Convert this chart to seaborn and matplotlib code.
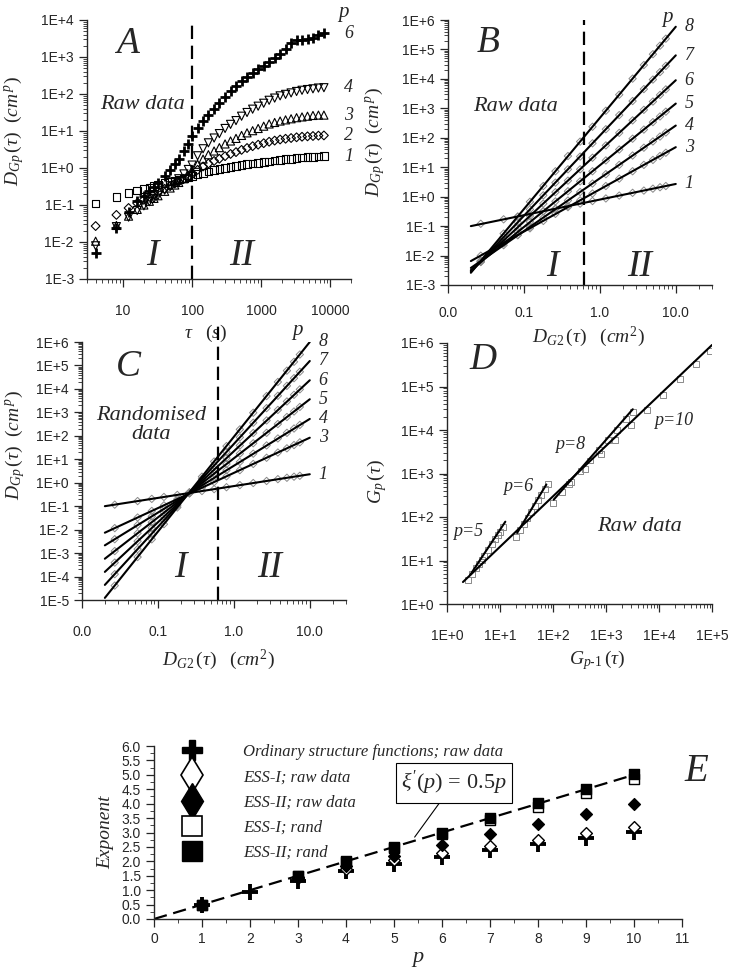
import numpy as np
import matplotlib
matplotlib.use("Agg")
import matplotlib.pyplot as plt
import seaborn as sns
from matplotlib.lines import Line2D
from matplotlib.ticker import (FixedLocator, FixedFormatter, LogLocator,
                               NullFormatter, MultipleLocator, FormatStrFormatter)

# ---------------- panel A: raw structure functions vs time lag ----------------
tau = [4, 8, 12, 16, 20, 24, 28, 32, 40, 48, 56, 64, 76, 88, 100, 120, 144, 172,
       208, 248, 300, 360, 432, 520, 624, 752, 904, 1088, 1304, 1568, 1880, 2256,
       2712, 3256, 3904, 4688, 5624, 6752, 8104]
a_p1 = [0.11, 0.166, 0.21, 0.245, 0.275, 0.30, 0.33, 0.355, 0.39, 0.43, 0.46, 0.49,
        0.525, 0.56, 0.60, 0.68, 0.74, 0.81, 0.87, 0.93, 1.0, 1.07, 1.15, 1.2, 1.26,
        1.32, 1.38, 1.45, 1.51, 1.58, 1.66, 1.74, 1.78, 1.86, 1.9, 1.95, 2.0, 2.04, 2.09]
a_p2 = [0.027, 0.054, 0.083, 0.112, 0.138, 0.166, 0.195, 0.224, 0.275, 0.324, 0.38,
        0.427, 0.513, 0.589, 0.676, 0.891, 1.10, 1.32, 1.55, 1.78, 2.09, 2.40, 2.69,
        3.09, 3.47, 3.89, 4.27, 4.68, 5.13, 5.50, 5.89, 6.17, 6.46, 6.76, 7.0, 7.16,
        7.33, 7.5, 7.59]
a_p3 = [0.0105, 0.028, 0.050, 0.076, 0.10, 0.126, 0.151, 0.178, 0.234, 0.288, 0.347,
        0.407, 0.513, 0.631, 0.794, 1.26, 1.74, 2.29, 2.88, 3.55, 4.47, 5.37, 6.31,
        7.59, 8.91, 10.2, 11.7, 13.5, 15.5, 17.0, 18.6, 20.0, 21.4, 22.9, 24.0, 25.1,
        26.3, 26.9, 26.9]
a_p4 = [0.0079, 0.026, 0.047, 0.071, 0.095, 0.123, 0.151, 0.182, 0.251, 0.331, 0.417,
        0.513, 0.692, 0.912, 1.20, 2.14, 3.31, 4.79, 6.46, 8.51, 11.7, 15.1, 19.1,
        25.1, 31.6, 38.9, 46.8, 56.2, 67.6, 77.6, 89.1, 97.7, 107, 117, 126, 132,
        138, 145, 148]
a_p6 = [0.005, 0.024, 0.063, 0.126, 0.178, 0.24, 0.316, 0.398, 0.603, 0.871, 1.26,
        1.78, 2.82, 4.47, 7.24, 12.0, 18.2, 26.9, 39.8, 57.5, 83.2, 117, 166, 224,
        295, 380, 479, 589, 724, 912, 1200, 1660, 2400, 2820, 2950, 3020, 3310,
        3980, 4370]
tau_split = 100

# ---------------- panel B: ESS, raw data ----------------
b_x = [0.027, 0.054, 0.083, 0.12, 0.18, 0.26, 0.38, 0.55, 0.8, 1.2, 1.8, 2.7, 3.8,
       5.0, 6.2, 7.4]
b_p1 = [0.12, 0.17, 0.21, 0.26, 0.32, 0.39, 0.48, 0.58, 0.71, 0.87, 1.09, 1.35,
        1.61, 1.87, 2.09, 2.30]
b_p3 = [0.0099, 0.027, 0.050, 0.084, 0.15, 0.26, 0.44, 0.75, 1.28, 2.3, 4.1, 7.3,
        12, 17.7, 24, 31]
b_p4 = [0.0065, 0.0225, 0.049, 0.094, 0.19, 0.38, 0.74, 1.44, 2.8, 5.8, 12, 25, 46,
        75, 110, 151]
b_p5 = [0.006, 0.026, 0.063, 0.14, 0.32, 0.69, 1.53, 3.3, 7.3, 17, 40, 93, 190, 340,
        530, 770]
b_p6 = [0.0062, 0.032, 0.091, 0.22, 0.58, 1.42, 3.5, 8.5, 21, 55, 147, 390, 890,
        1700, 2850, 4400]
b_p7 = [0.0063, 0.042, 0.135, 0.37, 1.11, 3.0, 8.5, 23, 65, 195, 590, 1770, 4500,
        9500, 17000, 27700]
b_p8 = [0.0066, 0.056, 0.21, 0.67, 2.3, 7.3, 24, 74, 237, 830, 2900, 10200, 29600,
        69000, 134000, 232000]
fit_x = [0.02, 10]
bfit_p1 = [0.1, 2.7]
bfit_p3 = [0.0065, 48]
bfit_p4 = [0.0038, 260]
bfit_p5 = [0.0032, 1450]
bfit_p6 = [0.003, 9000]
bfit_p7 = [0.0028, 63000]
bfit_p8 = [0.0026, 590000]
dg2_split = 0.62

# ---------------- panel C: ESS, randomised data ----------------
c_x = [0.027, 0.054, 0.083, 0.12, 0.18, 0.26, 0.38, 0.55, 0.8, 1.2, 1.8, 2.7, 3.8,
       5.0, 6.2, 7.4]
c_p1 = [0.116, 0.165, 0.205, 0.247, 0.303, 0.366, 0.443, 0.533, 0.644, 0.791, 0.971,
        1.19, 1.42, 1.63, 1.81, 1.98]
c_p3 = [0.0116, 0.0328, 0.0627, 0.109, 0.2, 0.348, 0.614, 1.07, 1.88, 3.44, 6.32,
        11.6, 19.4, 29.3, 40.4, 52.7]
c_p4 = [0.0039, 0.0156, 0.0368, 0.0769, 0.173, 0.361, 0.773, 1.61, 3.42, 7.69, 17.3,
        38.9, 77.3, 134, 205, 292]
c_p5 = [0.00122, 0.00702, 0.0207, 0.0526, 0.146, 0.369, 0.962, 2.43, 6.27, 17.4,
        48.3, 134, 318, 635, 1090, 1700]
c_p6 = [0.000393, 0.00321, 0.0118, 0.0361, 0.123, 0.376, 1.19, 3.63, 11.3, 38.6,
        132, 451, 1270, 2920, 5600, 9570]
c_p7 = [0.000126, 0.00147, 0.00673, 0.0248, 0.104, 0.384, 1.47, 5.42, 20.5, 85.9,
        361, 1510, 5100, 13500, 28700, 53800]
c_p8 = [4.12e-5, 0.000678, 0.00386, 0.0171, 0.0879, 0.39, 1.81, 8.02, 36.5, 188,
        964, 4950, 19800, 60000, 143000, 292000]
cfit_p1 = [0.1, 2.3]
cfit_p3 = [0.0074, 83]
cfit_p4 = [0.00214, 525]
cfit_p5 = [5.75e-4, 3630]
cfit_p6 = [1.58e-4, 23400]
cfit_p7 = [4.4e-5, 155000]
cfit_p8 = [1.23e-5, 1.0e6]

# ---------------- panel D: G_p vs G_(p-1) ----------------
d_x5 = [2.5, 3.0, 3.5, 4.0, 4.5, 5.0, 6.0, 7.0, 8.0, 9.0, 10, 11.5]
d_y5 = [3.5, 5.0, 6.6, 8.4, 10.5, 12.7, 17.7, 23.5, 30.5, 38, 46, 59]
d_x6 = [20, 24, 28, 33, 38, 45, 52, 60, 70, 80]
d_y6 = [35, 50, 69, 96, 129, 180, 242, 322, 440, 577]
d_x8 = [100, 150, 220, 330, 500, 750, 1100, 1600, 2400, 3200]
d_y8 = [211, 371, 633, 1120, 1990, 3490, 5970, 10000, 17700, 26400]
d_x10 = [200, 400, 800, 1500, 3000, 6000, 12000, 25000, 50000, 90000]
d_y10 = [570, 1260, 2800, 5770, 12900, 28400, 63000, 147000, 326000, 640000]
dfit_x5, dfit_y5 = [2.75, 12.6], [4.7, 78]
dfit_x6, dfit_y6 = [21, 75], [43, 560]
dfit_x8, dfit_y8 = [103, 3200], [250, 30000]
dfit_x10, dfit_y10 = [2.0, 1.0e5], [3.2, 9.0e5]

# ---------------- panel E: scaling exponents ----------------
p_all = [1, 2, 3, 4, 5, 6, 7, 8, 9, 10]
ord_sf = [0.5, 0.95, 1.33, 1.65, 1.92, 2.15, 2.38, 2.6, 2.82, 3.03]
p_ess = [1, 3, 4, 5, 6, 7, 8, 9, 10]
ess1_raw = [0.5, 1.41, 1.72, 2.04, 2.29, 2.53, 2.74, 2.97, 3.2]
ess2_raw = [0.5, 1.45, 1.85, 2.2, 2.58, 2.94, 3.28, 3.64, 4.0]
ess1_rand = [0.5, 1.48, 1.97, 2.47, 2.95, 3.42, 3.9, 4.38, 4.87]
ess2_rand = [0.5, 1.5, 2.0, 2.5, 3.0, 3.5, 4.02, 4.52, 5.03]
ref_p = [0, 10]
ref_xi = [0, 5.0]

# ---------------- style ----------------
sns.set_style("ticks")
plt.rcParams["font.family"] = ["Liberation Sans", "DejaVu Sans"]
plt.rcParams["mathtext.fontset"] = "custom"
plt.rcParams["mathtext.rm"] = "Liberation Serif"
plt.rcParams["mathtext.it"] = "Liberation Serif:italic"
plt.rcParams["mathtext.bf"] = "Liberation Serif:bold"
plt.rcParams["axes.linewidth"] = 1.0
SERIF = dict(family="Liberation Serif", style="italic")
GREY = "#8a8a8a"

W, H = 731, 973


def box(x0, y0, x1, y1):
    return [x0 / W, 1 - y1 / H, (x1 - x0) / W, (y1 - y0) / H]


def log_axes(ax, xlim, ylim, xt, xl, yt, yl, xpad=12):
    ax.set_xscale("log")
    ax.set_yscale("log")
    ax.set_xlim(xlim)
    ax.set_ylim(ylim)
    ax.xaxis.set_major_locator(FixedLocator(xt))
    ax.xaxis.set_major_formatter(FixedFormatter(xl))
    ax.yaxis.set_major_locator(FixedLocator(yt))
    ax.yaxis.set_major_formatter(FixedFormatter(yl))
    for axis in (ax.xaxis, ax.yaxis):
        axis.set_minor_locator(LogLocator(base=10, subs=np.arange(2, 10), numticks=80))
        axis.set_minor_formatter(NullFormatter())
    ax.tick_params(which="major", direction="out", length=6, width=0.9, labelsize=10)
    ax.tick_params(which="minor", direction="out", length=3, width=0.6)
    ax.tick_params(axis="x", which="major", pad=xpad)
    ax.patch.set_alpha(0)
    sns.despine(ax=ax)


def e_labels(lo, hi):
    return ["1E+%d" % k if k >= 0 else "1E-%d" % -k for k in range(lo, hi + 1)]


def e_ticks(lo, hi):
    return [10.0 ** k for k in range(lo, hi + 1)]


def note(ax, x, y, s, size, **kw):
    ax.text(x, y, s, transform=ax.transAxes, ha="center", va="center",
            fontsize=size, **SERIF, **kw)


fig = plt.figure(figsize=(W / 100, H / 100), dpi=100)

# ---------------- A ----------------
axA = fig.add_axes(box(87, 20, 351, 279))
for vals, mk, sz in [(a_p1, "s", 30), (a_p2, "D", 20), (a_p3, "^", 34), (a_p4, "v", 34)]:
    sns.scatterplot(x=tau, y=vals, marker=mk, s=sz, facecolor="none",
                    edgecolor="k", linewidth=0.8, ax=axA)
sns.scatterplot(x=tau, y=a_p6, marker="+", s=55, color="k", linewidth=2.0, ax=axA)
log_axes(axA, (3, 20000), (1e-3, 1e4), [10, 100, 1000, 10000],
         ["10", "100", "1000", "10000"], e_ticks(-3, 4), e_labels(-3, 4))
axA.axvline(tau_split, color="k", lw=1.6, ls=(0, (6, 3)))
for vals, lab in [(a_p6, "6"), (a_p4, "4"), (a_p3, "3"), (a_p2, "2"), (a_p1, "1")]:
    axA.text(tau[-1] * 2.3, vals[-1], lab, ha="center", va="center", fontsize=13, **SERIF)
note(axA, 0.97, 1.03, "p", 15)
note(axA, 0.155, 0.91, "A", 27)
note(axA, 0.21, 0.673, "Raw data", 16)
note(axA, 0.246, 0.09, "I", 27)
note(axA, 0.587, 0.09, "II", 27)
axA.set_xlabel(r"$\tau\ \ \ (s)$", fontsize=14)
axA.xaxis.set_label_coords(0.447, -0.168)
axA.set_ylabel(r"$D_{Gp}\,(\tau)\ \ (cm^{\,p})$", fontsize=14)
axA.yaxis.set_label_coords(-0.23, 0.57)

# ---------------- B ----------------
axB = fig.add_axes(box(448, 20, 712, 285))
b_series = [(b_p1, bfit_p1, "1"), (b_p3, bfit_p3, "3"), (b_p4, bfit_p4, "4"),
            (b_p5, bfit_p5, "5"), (b_p6, bfit_p6, "6"), (b_p7, bfit_p7, "7"),
            (b_p8, bfit_p8, "8")]
for vals, fit, lab in b_series:
    sns.scatterplot(x=b_x, y=vals, marker="D", s=14, facecolor="none",
                    edgecolor=GREY, linewidth=0.7, ax=axB, zorder=2)
    sns.lineplot(x=fit_x, y=fit, color="k", lw=1.5, ax=axB, zorder=3)
    axB.text(15, fit[-1], lab, ha="center", va="center", fontsize=13, **SERIF)
log_axes(axB, (0.01, 30), (1e-3, 1e6), [0.01, 0.1, 1, 10],
         ["0.0", "0.1", "1.0", "10.0"], e_ticks(-3, 6), e_labels(-3, 6), xpad=9)
axB.axvline(dg2_split, color="k", lw=1.6, ls=(0, (6, 3)))
note(axB, 0.833, 1.01, "p", 15)
note(axB, 0.152, 0.913, "B", 27)
note(axB, 0.254, 0.672, "Raw data", 16)
note(axB, 0.394, 0.07, "I", 27)
note(axB, 0.727, 0.07, "II", 27)
axB.set_xlabel(r"$D_{G2}\,(\tau)\ \ \ (cm^{2})$", fontsize=14)
axB.xaxis.set_label_coords(0.53, -0.15)
axB.set_ylabel(r"$D_{Gp}\,(\tau)\ \ (cm^{\,p})$", fontsize=14)
axB.yaxis.set_label_coords(-0.23, 0.54)

# ---------------- C ----------------
axC = fig.add_axes(box(82, 342, 346, 600))
c_series = [(c_p1, cfit_p1, "1"), (c_p3, cfit_p3, "3"), (c_p4, cfit_p4, "4"),
            (c_p5, cfit_p5, "5"), (c_p6, cfit_p6, "6"), (c_p7, cfit_p7, "7"),
            (c_p8, cfit_p8, "8")]
for vals, fit, lab in c_series:
    sns.scatterplot(x=c_x, y=vals, marker="D", s=14, facecolor="none",
                    edgecolor=GREY, linewidth=0.7, ax=axC, zorder=2)
    sns.lineplot(x=fit_x, y=fit, color="k", lw=1.5, ax=axC, zorder=3)
    axC.text(15, fit[-1], lab, ha="center", va="center", fontsize=13, **SERIF)
log_axes(axC, (0.01, 30), (1e-5, 1e6), [0.01, 0.1, 1, 10],
         ["0.0", "0.1", "1.0", "10.0"], e_ticks(-5, 6), e_labels(-5, 6))
axC.axvline(dg2_split, ymin=0, ymax=1.08, color="k", lw=1.6, ls=(0, (6, 3)),
            clip_on=False)
note(axC, 0.818, 1.045, "p", 15)
note(axC, 0.174, 0.903, "C", 27)
note(axC, 0.26, 0.678, "Randomised\ndata", 16, linespacing=1.0)
note(axC, 0.371, 0.125, "I", 27)
note(axC, 0.712, 0.125, "II", 27)
axC.set_xlabel(r"$D_{G2}\,(\tau)\ \ \ (cm^{2})$", fontsize=14)
axC.xaxis.set_label_coords(0.515, -0.185)
axC.set_ylabel(r"$D_{Gp}\,(\tau)\ \ (cm^{\,p})$", fontsize=14)
axC.yaxis.set_label_coords(-0.21, 0.6)

# ---------------- D ----------------
axD = fig.add_axes(box(447, 343, 712, 604))
for xs, ys in [(d_x5, d_y5), (d_x6, d_y6), (d_x8, d_y8), (d_x10, d_y10)]:
    sns.scatterplot(x=xs, y=ys, marker="s", s=18, facecolor="none", edgecolor=GREY,
                    linewidth=0.7, ax=axD, zorder=2)
for xs, ys in [(dfit_x5, dfit_y5), (dfit_x6, dfit_y6), (dfit_x8, dfit_y8),
               (dfit_x10, dfit_y10)]:
    sns.lineplot(x=xs, y=ys, color="k", lw=1.5, ax=axD, zorder=3)
log_axes(axD, (1, 1e5), (1, 1e6), e_ticks(0, 5), e_labels(0, 5),
         e_ticks(0, 6), e_labels(0, 6))
for lab, xx, yy in [("p=5", 2.55, 46), ("p=6", 22, 490), ("p=8", 212, 4750),
                    ("p=10", 19000, 16600)]:
    axD.text(xx, yy, lab, ha="center", va="center", fontsize=13, **SERIF)
note(axD, 0.136, 0.935, "D", 27)
note(axD, 0.728, 0.297, "Raw data", 16)
axD.set_xlabel(r"$G_{p\text{-}1}\,(\tau)$", fontsize=14)
axD.xaxis.set_label_coords(0.566, -0.17)
axD.set_ylabel(r"$G_{p}\,(\tau)$", fontsize=14)
axD.yaxis.set_label_coords(-0.22, 0.47)

# ---------------- E ----------------
axE = fig.add_axes(box(154, 746, 682, 919))
axE.patch.set_alpha(0)
sns.lineplot(x=ref_p, y=ref_xi, color="k", lw=1.6, ls=(0, (6, 3)), ax=axE, zorder=1)
sns.scatterplot(x=p_all, y=ord_sf, marker="+", s=120, color="k", linewidth=2.8,
                ax=axE, zorder=3)
sns.scatterplot(x=p_ess, y=ess1_raw, marker="D", s=36, facecolor="white",
                edgecolor="k", linewidth=1.0, ax=axE, zorder=4)
sns.scatterplot(x=p_ess, y=ess2_raw, marker="D", s=36, color="k",
                edgecolor="k", linewidth=1.0, ax=axE, zorder=4)
sns.scatterplot(x=p_ess, y=ess1_rand, marker="s", s=52, facecolor="white",
                edgecolor="k", linewidth=1.0, ax=axE, zorder=5)
sns.scatterplot(x=p_ess, y=ess2_rand, marker="s", s=52, color="k",
                edgecolor="k", linewidth=1.0, ax=axE, zorder=6)
axE.set_xlim(0, 11)
axE.set_ylim(0, 6)
axE.xaxis.set_major_locator(MultipleLocator(1))
axE.xaxis.set_minor_locator(MultipleLocator(0.5))
axE.yaxis.set_major_locator(MultipleLocator(0.5))
axE.yaxis.set_minor_locator(MultipleLocator(0.25))
axE.yaxis.set_major_formatter(FormatStrFormatter("%.1f"))
axE.tick_params(which="major", direction="out", length=6, width=0.9, labelsize=10)
axE.tick_params(which="minor", direction="out", length=3, width=0.6)
sns.despine(ax=axE)
axE.set_xlabel("p", fontsize=16, **SERIF)
axE.xaxis.set_label_coords(0.5, -0.17)
axE.set_ylabel("Exponent", fontsize=14, **SERIF)
axE.yaxis.set_label_coords(-0.075, 0.5)
axE.annotate(r"$\xi'(p)\,=\,0.5p$", xy=(5.43, 2.84), xytext=(6.25, 4.72),
             ha="center", va="center", fontsize=16,
             bbox=dict(boxstyle="square,pad=0.25", fc="white", ec="k", lw=0.8),
             arrowprops=dict(arrowstyle="-", color="k", lw=0.8, shrinkA=0, shrinkB=0),
             zorder=7)
axE.text(11.3, 5.1, "E", ha="center", va="center", fontsize=28, clip_on=False,
         **SERIF)
handles = [
    Line2D([], [], ls="none", marker="P", color="k", markersize=15),
    Line2D([], [], ls="none", marker="d", mfc="white", mec="k", mew=1.2, markersize=18),
    Line2D([], [], ls="none", marker="d", color="k", markersize=18),
    Line2D([], [], ls="none", marker="s", mfc="white", mec="k", mew=1.2, markersize=15),
    Line2D([], [], ls="none", marker="s", color="k", markersize=15),
]
labels = ["Ordinary structure functions; raw data", "ESS-I; raw data",
          "ESS-II; raw data", "ESS-I; rand", "ESS-II; rand"]
axE.legend(handles, labels, loc="upper left", bbox_to_anchor=(0.04, 1.05),
           frameon=False, handlelength=1.2, handletextpad=2.5, labelspacing=0.55,
           borderaxespad=0, prop=dict(family="Liberation Serif", style="italic", size=12))

fig.savefig("out.png", dpi=100)
